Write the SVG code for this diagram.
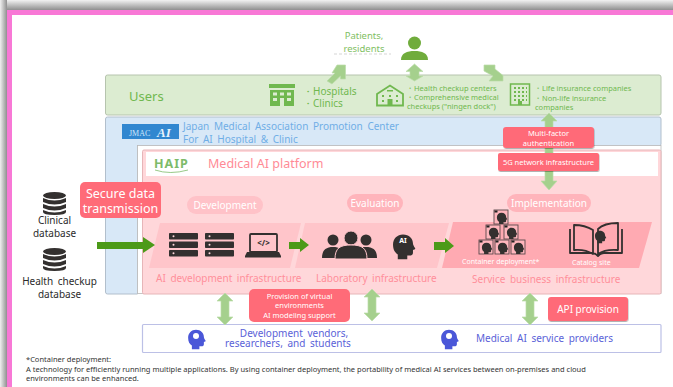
<svg xmlns="http://www.w3.org/2000/svg" width="673" height="387" viewBox="0 0 673 387">
<defs>
<linearGradient id="gt" x1="0" y1="0" x2="0" y2="1"><stop offset="0" stop-color="#f2f2f2"/><stop offset="1" stop-color="#8f8f8f"/></linearGradient>
<linearGradient id="gl" x1="0" y1="0" x2="1" y2="0"><stop offset="0" stop-color="#f0f0f0"/><stop offset="1" stop-color="#8f8f8f"/></linearGradient>
<filter id="sh" x="-10%" y="-10%" width="120%" height="130%"><feDropShadow dx="0.5" dy="1" stdDeviation="0.7" flood-color="#000" flood-opacity="0.3"/></filter>
<g id="db"><ellipse cx="0" cy="3.5" rx="11.5" ry="3.5"/><path d="M-11.5 6q11.5 5 23 0v4q-11.5 5-23 0z"/><path d="M-11.5 12q11.5 5 23 0v4q-11.5 5-23 0z"/><path d="M-11.5 18q11.5 5 23 0v2q0 3-11.5 3t-11.5-3z"/></g>
<path id="head" d="M0-11c6.500 0 10.500 4.500 10.500 9.500 0 2 2.500 5 2.500 5.500s-1.500 1-2.500 1.200v3c0 2-1.500 3-3.500 2.800h-2.500v4h-10v-5c-3-2-5-5-5-10.500 0-6 4.500-10.500 10.500-10.500z"/>
<g id="srv"><rect x="0" y="0" width="29" height="6.500" rx="0.800"/><rect x="0" y="8.500" width="29" height="6.500" rx="0.800"/><rect x="0" y="17" width="29" height="6.500" rx="0.800"/><g fill="#ffd6da"><circle cx="4.500" cy="3.200" r="1"/><circle cx="4.500" cy="11.700" r="1"/><circle cx="4.500" cy="20.200" r="1"/></g></g>
<g id="ctr"><rect x="-7" y="-7" width="14" height="14" fill="#ffb6bd" stroke="#5b4a4c" stroke-width="0.900"/><rect x="-6.500" y="-6.500" width="3" height="2" fill="#222"/><use href="#head" transform="translate(0.500 0.500) scale(0.440)" fill="#33302f"/></g>
<path id="v2" d="M0-16 8-8H4V8H8L0 16-8 8H-4V-8H-8z"/>
</defs>
<style>
text{font-family:"Noto Sans","Open Sans","Liberation Sans",sans-serif}
.g{fill:#70b84f}
.gl{fill:#7fc063}
.ar{fill:#a5d08d;stroke:#bcdcaa;stroke-width:.7}
.w{fill:#fff}
.red{fill:#ff6b78}
.pk{fill:#ff8f9a;word-spacing:2px}
.bl{fill:#5a62d8;word-spacing:2px}
.k{fill:#2b2b2b}
.ftr{fill:#333;font-size:7.500px}
</style>
<rect width="673" height="387" fill="#fff"/>
<rect x="0" y="0" width="673" height="10" fill="url(#gt)"/>
<rect x="0" y="0" width="7" height="387" fill="url(#gl)"/>
<g id="frame"><rect x="7" y="10" width="680" height="390" fill="#fff" stroke="none"/><path d="M9.500 387V12.500H673" fill="none" stroke="#f878d6" stroke-width="5"/></g>

<g id="blue-panel"><path d="M107.500 117H659q2 0 2 2v25q0 2-2 2H137.500V294H107.500q-2 0-2-2V119q0-2 2-2z" fill="#d8e8f7" stroke="#b2bfcc" stroke-width="1"/>
<rect x="122" y="124" width="57" height="15" fill="#3187d0"/><text x="129" y="136" font-size="8" fill="#cfe6fa" font-family="Liberation Serif,serif" style="font-family:'Liberation Serif',serif">JMAC</text><text x="157" y="137" font-size="13" font-weight="700" font-style="italic" fill="#e8f3fc" style="font-family:'Liberation Serif',serif">AI</text>
<text x="183" y="130" font-size="10" fill="#70aee6" word-spacing="2">Japan Medical Association Promotion Center</text><text x="183" y="143" font-size="10" fill="#70aee6" word-spacing="2">For AI Hospital &amp; Clinic</text></g>

<g id="users"><rect x="105.500" y="75" width="555.500" height="40" rx="2" fill="#dcecd1" stroke="#b6c4ae" stroke-width="1"/>
<text x="129" y="101" font-size="13" class="g">Users</text>
<g id="hospital-icon" class="g"><rect x="269" y="84" width="26" height="4"/><path d="M270 90h24v16h-24zM273 92.500v3h4v-3zM280 92.500v3h4v-3zM287 92.500v3h4v-3zM273 98v3h4v-3zM287 98v3h4v-3zM280 98v8h4v-8z" fill-rule="evenodd"/></g>
<text x="303" y="95" font-size="10" class="g">・Hospitals</text><text x="303" y="107" font-size="10" class="g">・Clinics</text>
<g id="clinic-icon"><path d="M377 94 390 85.500 403 94V105.500H377z" fill="none" stroke="#70b84f" stroke-width="1.800"/><rect x="387" y="90" width="6" height="1.500" fill="#70b84f"/><rect x="387.500" y="99" width="5" height="6.500" fill="#70b84f"/><g fill="#70b84f"><rect x="382" y="95" width="2" height="2"/><rect x="396" y="95" width="2" height="2"/><rect x="382" y="100" width="2" height="2"/><rect x="396" y="100" width="2" height="2"/><rect x="389" y="95" width="2" height="2"/></g></g>
<text x="406" y="91" font-size="7.500" class="g">・Health checkup centers</text><text x="406" y="100" font-size="7.500" class="g">・Comprehensive medical</text><text x="407" y="109" font-size="7.500" class="g">checkups ("ningen dock")</text>
<g id="office-icon"><rect x="510.500" y="84" width="19" height="21" fill="none" stroke="#70b84f" stroke-width="1.500"/><rect x="518" y="101" width="4" height="4" fill="#70b84f"/><path d="M514 88h13M514 92h13M514 96h13M514 100h13" stroke="#70b84f" stroke-width="1.800" stroke-dasharray="2 2" fill="none"/></g>
<text x="534" y="91" font-size="7.500" class="g">・Life insurance companies</text><text x="534" y="101" font-size="7.500" class="g">・Non-life insurance</text><text x="535" y="110" font-size="7.500" class="g">companies</text></g>

<g id="white-panel"><rect x="137.500" y="145.500" width="523.500" height="148" fill="#fff" stroke="#b8b8b8" stroke-width="0.800"/></g>
<g id="platform"><rect x="142.500" y="150" width="518.500" height="144" rx="1.500" fill="#ffd7da" stroke="#e6b5b8" stroke-width="1"/><rect x="146" y="152" width="512" height="24" fill="#fff"/>
<text x="154" y="168" font-size="12.500" font-weight="700" fill="#7dbb6a" letter-spacing="1">HAIP</text><path d="M155 170q15 5 33 0" fill="none" stroke="#7dbb6a" stroke-width=".8"/>
<text x="208" y="168" font-size="12.500" fill="#ff8b96">Medical AI platform</text>
<path d="M160 223H301L290 268H149z" fill="#ffc5ca"/><path d="M305 223H449L437 268H295z" fill="#ffc5ca"/><path d="M453 222H652L639 268H442z" fill="#ffaab2"/>
<rect x="187" y="196" width="76" height="18" rx="9" fill="#ffc2c8"/><text x="225" y="209" font-size="10" fill="#fff" text-anchor="middle">Development</text>
<rect x="347" y="194" width="56" height="18" rx="9" fill="#ffb4bb"/><text x="375" y="207" font-size="10" fill="#fff" text-anchor="middle">Evaluation</text>
<rect x="507" y="194" width="84" height="18" rx="9" fill="#ffb4bb"/><text x="549" y="207" font-size="10" fill="#fff" text-anchor="middle">Implementation</text>
<text x="156" y="282" font-size="10" class="pk">AI development  infrastructure</text><text x="316" y="282" font-size="10" class="pk">Laboratory infrastructure</text><text x="472" y="283" font-size="10" class="pk">Service business infrastructure</text>
<text x="462" y="264" font-size="7" class="w">Container deployment*</text><text x="572" y="265" font-size="7" class="w">Catalog site</text></g>
<g id="infra-icons">
<use href="#srv" x="169" y="233" fill="#33302f"/><use href="#srv" x="205" y="233" fill="#33302f"/>
<g id="laptop"><rect x="250" y="234" width="27" height="18" rx="1" fill="#ffc5ca" stroke="#33302f" stroke-width="1.800"/><path d="M245 256h36l-2-4h-32zM245 256h36v1.500h-36z" fill="#33302f"/><text x="263.500" y="246" font-size="8" fill="#33302f" text-anchor="middle" font-weight="700">&lt;/&gt;</text></g>
<g id="people" fill="#33302f"><circle cx="333" cy="240" r="5.500"/><path d="M322 258c0-8 4-11 11-11s11 3 11 11z"/><circle cx="366" cy="240" r="5.500"/><path d="M355 258c0-8 4-11 11-11s11 3 11 11z"/><circle cx="351" cy="238" r="7" stroke="#ffc5ca" stroke-width="1"/><path d="M335 259c0-11 5-14 16-14s16 3 16 14z" stroke="#ffc5ca" stroke-width="1"/></g>
<g id="ai-head"><use href="#head" transform="translate(403 245) scale(0.950)" fill="#33302f"/><text x="403" y="243" font-size="7" font-weight="700" fill="#fff" text-anchor="middle">AI</text></g>
<g id="containers"><use href="#ctr" x="501" y="217"/><use href="#ctr" x="493" y="232"/><use href="#ctr" x="511" y="232"/><use href="#ctr" x="486" y="247"/><use href="#ctr" x="502" y="247"/><use href="#ctr" x="518" y="247"/></g>
<g id="book"><path d="M570 229v24h22q3 0 6 3 3-3 6-3h18v-24M574 225v25q11-1 19 4V230q-8-5-19-5zM618 223q-14 0-20 6v25q7-5 20-4z" fill="#ffaab2" stroke="#33302f" stroke-width="1.800" stroke-linejoin="round"/><use href="#head" transform="translate(600 236) scale(0.480)" fill="#33302f"/></g>
</g>

<g id="bottom-box"><rect x="142.500" y="324.500" width="518.500" height="28" rx="1" fill="#fff" stroke="#bcc0e6" stroke-width="1.200"/>
<use href="#head" transform="translate(196 338) scale(0.750)" fill="#4a57d8"/><circle cx="196" cy="336" r="3" fill="#fff"/>
<use href="#head" transform="translate(449 338) scale(0.750)" fill="#4a57d8"/><circle cx="449" cy="336" r="3" fill="#fff"/>
<text x="294" y="337" font-size="10" class="bl" text-anchor="middle">Development vendors,</text><text x="288" y="347" font-size="10" class="bl" text-anchor="middle">researchers, and students</text>
<text x="476" y="342" font-size="10" class="bl">Medical AI service providers</text></g>

<g id="connectors">
<g id="green-arrows" fill="#4c9a18"><path d="M97 242H143V237L155 245 143 253V249H97z"/><path d="M289 242H300V238L309 245 300 252V249H289z"/><path d="M434 242H445V238L454 246 445 253V250H434z"/></g>
<path class="ar" d="M414 63 425 72H419V75H419V80L425 80 414 90 413 80H405L410 75H409V72H403z" style="display:none"/>
<g class="ar"><path d="M414.500 64 423 71.500H419V76H423L414.500 81 406 76H410V71.500H406z"/>
<path d="M345.500 65V79H340.500V76L332 84 327 81 335 73H332L337 65z"/>
<path d="M484 65H495V69L503 75.500 503 81 489 81 493 76 484 71z"/>
<use href="#v2" x="549" y="135" transform="translate(0 0)" style="display:none"/>
<path d="M549 113 557 121H553V181H557L549 190 541 181H545V121H541z"/>
<use href="#v2" x="225" y="309"/><use href="#v2" x="372" y="305"/><use href="#v2" x="530" y="309"/></g>
</g>

<g id="badges" font-size="8">
<rect x="503" y="127" width="91" height="21" rx="3" class="red" filter="url(#sh)"/><text x="548.500" y="136" text-anchor="middle" class="w" font-size="7.500">Multi-factor</text><text x="548.500" y="146" text-anchor="middle" class="w" font-size="7.500">authentication</text>
<rect x="498" y="153" width="101" height="18" rx="2" class="red" filter="url(#sh)"/><text x="548.500" y="165" text-anchor="middle" class="w" font-size="7.500">5G network infrastructure</text>
<rect x="80" y="182" width="81" height="36" rx="5" class="red"/><text x="120.500" y="198" text-anchor="middle" class="w" font-size="12.500">Secure data</text><text x="120.500" y="213" text-anchor="middle" class="w" font-size="12.500">transmission</text>
<rect x="249" y="289" width="101" height="33" rx="5" class="red"/><text x="299.500" y="299" text-anchor="middle" class="w" font-size="7.500">Provision of virtual</text><text x="299.500" y="308" text-anchor="middle" class="w" font-size="7.500">environments</text><text x="299.500" y="318" text-anchor="middle" class="w" font-size="7.500">AI modeling support</text>
<rect x="548" y="297" width="80" height="24" rx="3" class="red" filter="url(#sh)"/><text x="588" y="313" text-anchor="middle" class="w" font-size="10">API provision</text>
</g>

<g id="patients"><text x="364" y="39" font-size="9.500" class="gl" text-anchor="middle">Patients,</text><text x="364" y="52" font-size="9.500" class="gl" text-anchor="middle">residents</text><path d="M334 54H391" stroke="#aaa" stroke-width=".5" stroke-dasharray="3 2"/>
<circle cx="414.500" cy="43" r="6.500" fill="#70ac3c"/><path d="M401 60c0-7 6-9 13.500-9s13.500 2 13.500 9z" fill="#70ac3c"/></g>

<g id="clinical-db" fill="#33302f"><use href="#db" x="54.500" y="192"/><text x="54.500" y="224" font-size="10" text-anchor="middle" class="k">Clinical</text><text x="54.500" y="237" font-size="10" text-anchor="middle" class="k">database</text></g>
<g id="checkup-db" fill="#33302f"><use href="#db" x="54.500" y="248"/><text x="59.500" y="285" font-size="10" text-anchor="middle" class="k" word-spacing="2">Health checkup</text><text x="59.500" y="298" font-size="10" text-anchor="middle" class="k">database</text></g>

<g id="footnote"><text x="26" y="362" class="ftr">*Container deployment:</text><text x="26" y="372" class="ftr">A technology for efficiently running multiple applications. By using container deployment, the portability of medical AI services between on-premises and cloud</text><text x="26" y="381" class="ftr">environments can be enhanced.</text></g>
</svg>
